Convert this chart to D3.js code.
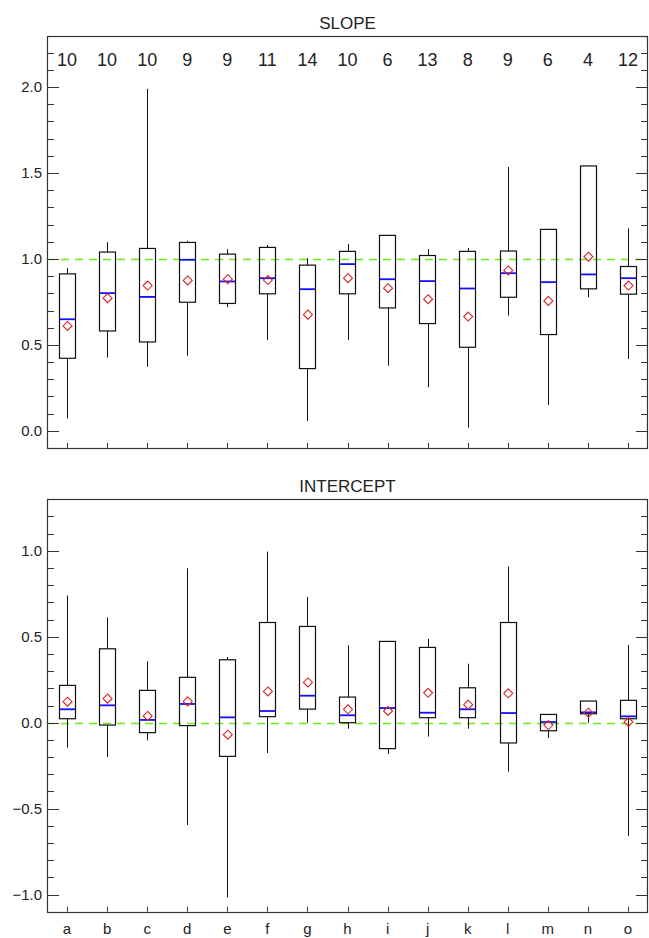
<!DOCTYPE html>
<html>
<head>
<meta charset="utf-8">
<script src="https://cdn.jsdelivr.net/npm/d3@7"></script>
<style>
  body { margin: 0; background: #fff; }
  svg { display: block; font-family: "Liberation Sans", Arial, sans-serif; }
</style>
</head>
<body>
<svg id="chart" width="649" height="938"></svg>
<script>
const categories = ['a','b','c','d','e','f','g','h','i','j','k','l','m','n','o'];
const counts = [10,10,10,9,9,11,14,10,6,13,8,9,6,4,12];

// SLOPE panel
const slopeLow    = [0.072,0.426,0.373,0.437,0.719,0.529,0.058,0.529,0.379,0.253,0.019,0.671,0.150,0.777,0.418];
const slopeQ1     = [0.422,0.581,0.517,0.748,0.741,0.797,0.362,0.797,0.715,0.624,0.486,0.777,0.560,0.826,0.795];
const slopeMedian = [0.649,0.801,0.779,0.995,0.869,0.888,0.824,0.970,0.882,0.871,0.828,0.917,0.865,0.910,0.888];
const slopeQ3     = [0.913,1.040,1.061,1.096,1.028,1.067,0.964,1.044,1.137,1.020,1.044,1.046,1.172,1.541,0.956];
const slopeHigh   = [0.947,1.098,1.990,1.106,1.057,1.081,1.005,1.088,1.137,1.057,1.063,1.535,1.172,1.541,1.178];
const slopeMean   = [0.610,0.772,0.845,0.875,0.882,0.877,0.676,0.888,0.830,0.766,0.665,0.933,0.756,1.013,0.845];

// INTERCEPT panel
const intLow    = [-0.145,-0.200,-0.103,-0.595,-1.017,-0.176,0.000,-0.035,-0.182,-0.081,-0.035,-0.285,-0.089,0.000,-0.659];
const intQ1     = [0.023,-0.014,-0.058,-0.017,-0.196,0.035,0.079,0.000,-0.151,0.029,0.029,-0.118,-0.047,0.052,0.023];
const intMedian = [0.078,0.101,0.016,0.109,0.031,0.068,0.157,0.043,0.085,0.058,0.078,0.056,0.004,0.060,0.037];
const intQ3     = [0.217,0.430,0.188,0.264,0.366,0.583,0.560,0.149,0.473,0.438,0.203,0.583,0.048,0.126,0.130];
const intHigh   = [0.740,0.612,0.357,0.899,0.382,0.996,0.731,0.450,0.473,0.488,0.343,0.909,0.048,0.126,0.452];
const intMean   = [0.122,0.140,0.039,0.124,-0.070,0.182,0.234,0.078,0.068,0.174,0.105,0.171,-0.014,0.058,0.004];

const slopeTicks = [0.0, 0.5, 1.0, 1.5, 2.0];
const intTicks = [-1.0, -0.5, 0.0, 0.5, 1.0];

const svg = d3.select('#chart');
const left = 47, right = 648;

const x = d3.scaleLinear().domain([-0.5, categories.length - 0.5]).range([left, right]);
const halfBox = x(0.205) - x(0);

function buildRows(low, q1, med, q3, high, mean) {
    return categories.map((c, i) => ({
        i: i, cat: c, low: low[i], q1: q1[i], med: med[i], q3: q3[i], high: high[i], mean: mean[i]
    }));
}

function fmt(v) {
    return d3.format('.1f')(v).replace('-', '\u2212');
}

function drawPanel(opts) {
    const g = svg.append('g');
    const y = d3.scaleLinear().domain(opts.domain).range([opts.bottom, opts.top]);

    // title
    g.append('text')
        .attr('x', (left + right) / 2)
        .attr('y', opts.top - 7)
        .attr('text-anchor', 'middle')
        .attr('font-size', 17)
        .attr('fill', '#222')
        .text(opts.title);

    // reference line
    g.append('line')
        .attr('x1', left).attr('x2', right)
        .attr('y1', Math.round(y(opts.refValue)) + 0.5)
        .attr('y2', Math.round(y(opts.refValue)) + 0.5)
        .attr('stroke', '#6ee81e')
        .attr('stroke-width', 1.3)
        .attr('stroke-dasharray', '8,6');

    // minor / major ticks, both sides, inward
    const minor = d3.range(Math.round(opts.domain[0] * 10) + 1, Math.round(opts.domain[1] * 10)).map(d => d / 10);
    minor.forEach(v => {
        const isMajor = Math.abs(Math.round(v * 2) - v * 2) < 1e-6;
        const len = isMajor ? 12 : 7;
        const yy = Math.round(y(v)) + 0.5;
        g.append('line').attr('x1', left).attr('x2', left + len).attr('y1', yy).attr('y2', yy)
            .attr('stroke', '#333').attr('stroke-width', 1);
        g.append('line').attr('x1', right - len).attr('x2', right).attr('y1', yy).attr('y2', yy)
            .attr('stroke', '#333').attr('stroke-width', 1);
    });

    g.selectAll('.ylab')
        .data(opts.ticks)
        .enter()
        .append('text')
        .attr('x', left - 5)
        .attr('y', d => y(d))
        .attr('dy', '0.36em')
        .attr('text-anchor', 'end')
        .attr('font-size', 15)
        .attr('fill', '#222')
        .text(d => fmt(d));

    // category ticks on bottom edge
    g.selectAll('.xtick')
        .data(categories)
        .enter()
        .append('line')
        .attr('x1', (d, i) => Math.round(x(i)) + 0.5)
        .attr('x2', (d, i) => Math.round(x(i)) + 0.5)
        .attr('y1', opts.bottom)
        .attr('y2', opts.bottom - 5)
        .attr('stroke', '#333');

    const rows = opts.rows;

    // whiskers
    g.selectAll('.wlo').data(rows).enter().append('line')
        .attr('x1', d => Math.round(x(d.i)) + 0.5).attr('x2', d => Math.round(x(d.i)) + 0.5)
        .attr('y1', d => y(d.low)).attr('y2', d => y(d.q1))
        .attr('stroke', '#111');
    g.selectAll('.whi').data(rows).enter().append('line')
        .attr('x1', d => Math.round(x(d.i)) + 0.5).attr('x2', d => Math.round(x(d.i)) + 0.5)
        .attr('y1', d => y(d.q3)).attr('y2', d => y(d.high))
        .attr('stroke', '#111');

    // boxes
    g.selectAll('.box').data(rows).enter().append('rect')
        .attr('x', d => Math.round(x(d.i) - halfBox) + 0.5)
        .attr('y', d => y(d.q3))
        .attr('width', Math.round(halfBox * 2))
        .attr('height', d => y(d.q1) - y(d.q3))
        .attr('fill', 'none')
        .attr('stroke', '#111')
        .attr('stroke-width', 1.2);

    // medians
    g.selectAll('.med').data(rows).enter().append('line')
        .attr('x1', d => Math.round(x(d.i) - halfBox) + 1)
        .attr('x2', d => Math.round(x(d.i) - halfBox) + Math.round(halfBox * 2))
        .attr('y1', d => y(d.med)).attr('y2', d => y(d.med))
        .attr('stroke', '#1010ff')
        .attr('stroke-width', 1.8);

    // means
    g.selectAll('.mean').data(rows).enter().append('path')
        .attr('transform', d => `translate(${x(d.i) + 0.5},${y(d.mean)})`)
        .attr('d', 'M0,-4.5L4.5,0L0,4.5L-4.5,0Z')
        .attr('fill', 'none')
        .attr('stroke', '#dd2222')
        .attr('stroke-width', 1.1);

    // counts
    if (opts.counts) {
        g.selectAll('.cnt').data(opts.counts).enter().append('text')
            .attr('x', (d, i) => x(i))
            .attr('y', opts.top + 30)
            .attr('text-anchor', 'middle')
            .attr('font-size', 18)
            .attr('fill', '#222')
            .text(d => d);
    }

    // frame
    g.append('rect')
        .attr('x', left + 0.5).attr('y', Math.round(opts.top) + 0.5)
        .attr('width', right - left - 1).attr('height', Math.round(opts.bottom) - Math.round(opts.top))
        .attr('fill', 'none')
        .attr('stroke', '#333')
        .attr('stroke-width', 1.2);

    return y;
}

drawPanel({
    title: 'SLOPE',
    top: 35.5, bottom: 448,
    domain: [-0.1, 2.3],
    ticks: slopeTicks,
    refValue: 1.0,
    counts: counts,
    rows: buildRows(slopeLow, slopeQ1, slopeMedian, slopeQ3, slopeHigh, slopeMean)
});

drawPanel({
    title: 'INTERCEPT',
    top: 499.3, bottom: 911.7,
    domain: [-1.1, 1.3],
    ticks: intTicks,
    refValue: 0.0,
    rows: buildRows(intLow, intQ1, intMedian, intQ3, intHigh, intMean)
});

// category letters
svg.selectAll('.cat')
    .data(categories)
    .enter()
    .append('text')
    .attr('x', (d, i) => x(i))
    .attr('y', 934)
    .attr('text-anchor', 'middle')
    .attr('font-size', 15)
    .attr('fill', '#222')
    .text(d => d);
</script>
</body>
</html>
